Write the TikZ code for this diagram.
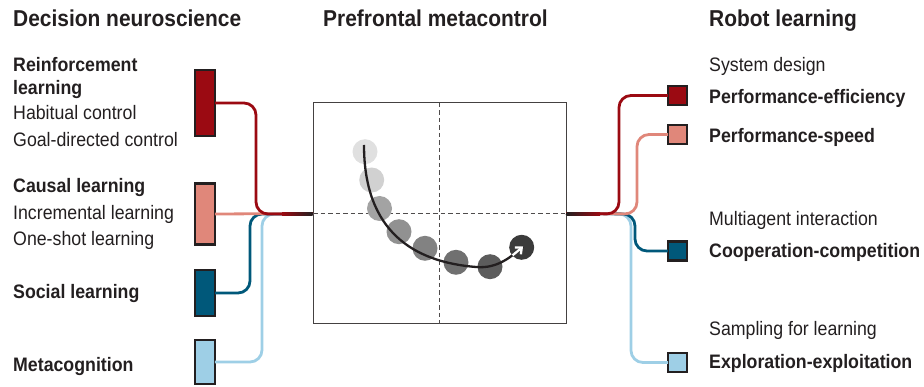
\documentclass[tikz,border=0pt]{standalone}
\usepackage{fontspec}
\setmainfont{Liberation Sans}[FakeStretch=0.91]
\usetikzlibrary{arrows.meta}
\definecolor{ink}{HTML}{231F20}
\definecolor{dred}{HTML}{9B0A12}
\definecolor{salm}{HTML}{E0877A}
\definecolor{dblue}{HTML}{00587A}
\definecolor{lblue}{HTML}{9ECFE6}
\begin{document}
\begin{tikzpicture}[x=1pt,y=-1pt,
  lbl/.style={anchor=base west, inner sep=0pt, text=ink, font=\fontsize{19.5}{22}\selectfont},
  blbl/.style={lbl, font=\fontsize{19.5}{22}\selectfont\bfseries},
  head/.style={anchor=base west, inner sep=0pt, text=ink, font=\fontsize{23}{26}\selectfont\bfseries},
  tallbox/.style={draw=ink, line width=2.4pt, fill=#1, minimum width=19.6pt, inner sep=0pt, outer sep=0pt},
  sqbox/.style={draw=ink, line width=2.4pt, fill=#1, minimum width=18.8pt, minimum height=18.8pt, inner sep=0pt, outer sep=0pt},
  conn/.style={draw=#1, line width=2.8pt, rounded corners=12pt},
  blob/.style={circle, fill=#1, minimum size=25pt, inner sep=0pt}]
\useasboundingbox (0,0) rectangle (924,387);

% headings
\node[head] (h1) at (13,27) {Decision neuroscience};
\node[head] (h2) at (323,27) {Prefrontal metacontrol};
\node[head] (h3) at (709,27) {Robot learning};

% left labels
\node[blbl] (l1) at (13,72) {Reinforcement};
\node[blbl] (l2) at (13,95) {learning};
\node[lbl] (l3) at (13,120) {Habitual control};
\node[lbl] (l4) at (13,147) {Goal-directed control};
\node[blbl] (l5) at (13,193) {Causal learning};
\node[lbl] (l6) at (13,220) {Incremental learning};
\node[lbl] (l7) at (13,246) {One-shot learning};
\node[blbl] (l8) at (13,299) {Social learning};
\node[blbl] (l9) at (13,372) {Metacognition};

% right labels
\node[lbl] (r1) at (709,72) {System design};
\node[blbl] (r2) at (709,104) {Performance-efficiency};
\node[blbl] (r3) at (709,143) {Performance-speed};
\node[lbl] (r4) at (709,226) {Multiagent interaction};
\node[blbl] (r5) at (709,258) {Cooperation-competition};
\node[lbl] (r6) at (709,336) {Sampling for learning};
\node[blbl] (r7) at (709,369) {Exploration-exploitation};

% central panel
\node[draw=ink!85, line width=1pt, minimum width=253pt, minimum height=221pt, inner sep=0pt, outer sep=0pt] (meta) at (439.5,213.5) {};
\draw[ink!80, line width=0.9pt, dash pattern=on 4.5pt off 3pt] (meta.north -| 439,0) -- (meta.south -| 439,0);
\draw[ink!80, line width=0.9pt, dash pattern=on 4.5pt off 3pt] (meta.west) -- (meta.east);

% left boxes
\node[tallbox=dred, minimum height=66pt] (lb1) at (205,103) {};
\node[tallbox=salm, minimum height=61pt] (lb2) at (205,214) {};
\node[tallbox=dblue, minimum height=46pt] (lb3) at (205,293) {};
\node[tallbox=lblue, minimum height=44pt] (lb4) at (205,362) {};

% right boxes
\node[sqbox=dred] (rb1) at (677.5,95.5) {};
\node[sqbox=salm] (rb2) at (677.5,134.5) {};
\node[sqbox=dblue] (rb3) at (677.5,251) {};
\node[sqbox=lblue] (rb4) at (677.5,362.5) {};

% left connectors
\coordinate (lm) at (300,214);
\draw[conn=lblue] (lb4.east) -- (262,362) -- (262,214) -- (lm) -- (meta.west);
\draw[conn=dblue] (lb3.east) -- (250,293) -- (250,214) -- (lm) -- (meta.west);
\draw[conn=salm] (lb2.east) -- (meta.west);
\draw[conn=dred] (lb1.east) -- (256,103) -- (256,214) -- (lm) -- (meta.west);
\shade[left color=dred, right color=ink] (282,212.6) rectangle (312.5,215.4);

% right connectors
\coordinate (rm) at (600,214);
\draw[conn=lblue] (meta.east) -- (631,214) -- (631,362.5) -- (rb4.west);
\draw[conn=dblue] (meta.east) -- (635,214) -- (635,251) -- (rb3.west);
\draw[conn=salm] (meta.east) -- (637,214) -- (637,134.5) -- (rb2.west);
\draw[conn=dred] (meta.east) -- (619,214) -- (619,95.5) -- (rb1.west);
\shade[left color=ink, right color=dred] (566.5,212.6) rectangle (600,215.4);

% trajectory blobs
\node[blob={black!12}] (c1) at (365,151.7) {};
\node[blob={black!18}] (c2) at (371.7,180) {};
\node[blob={black!36}] (c3) at (379.5,208.5) {};
\node[blob={black!43}] (c4) at (399,231.7) {};
\node[blob={black!49}] (c5) at (425,248.3) {};
\node[blob={black!56}] (c6) at (456,262.3) {};
\node[blob={black!64}] (c7) at (490,266.7) {};
\node[blob={black!77}] (c8) at (521.7,247.3) {};

\draw[ink, line width=2.3pt] (364,145) .. controls (364,232) and (414,262) .. (476,267) .. controls (498,269) and (512,256) .. (523,246.5);
\begin{scope}
\clip (c8.center) circle (12.3pt);
\draw[white, line width=2.3pt, -{Straight Barb[length=5pt,width=9pt]}] (476,267) .. controls (498,269) and (512,256) .. (523,246.5);
\end{scope}
\end{tikzpicture}
\end{document}
